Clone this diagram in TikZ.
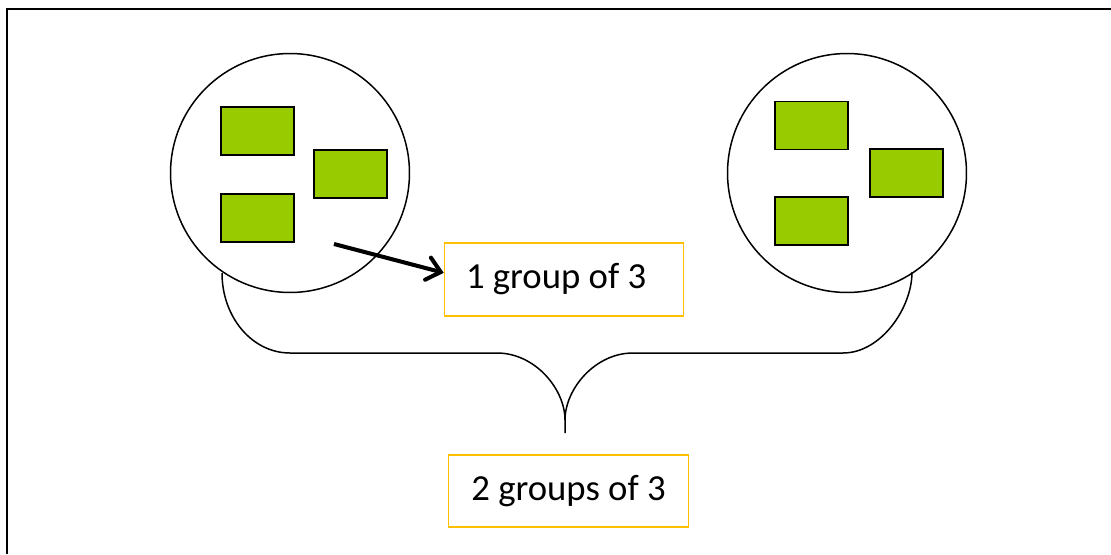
\documentclass[tikz,border=0pt]{standalone}
\usepackage{fontspec}
\setmainfont{Carlito}
\usetikzlibrary{arrows.meta,calc}
\definecolor{sqgreen}{HTML}{99CC00}
\definecolor{boxgold}{HTML}{FFC000}
\tikzset{
  grp/.style={circle,draw=black,line width=0.85pt,minimum size=136pt,inner sep=0pt},
  sq/.style={rectangle,draw=black,fill=sqgreen,line width=1pt,minimum width=41.4pt,minimum height=27.2pt,inner sep=0pt},
  lbl/.style={rectangle,draw=boxgold,line width=0.9pt,font=\fontsize{20.9}{25}\selectfont,inner sep=0pt},
  brace/.style={draw=black,line width=0.85pt},
  pointer/.style={draw=black,line width=2.3pt,-{Straight Barb[length=7.5pt,width=13pt,line cap=round]}}
}
\begin{document}
\begin{tikzpicture}[x=0.02cm,y=-0.02cm]
\useasboundingbox (0,0) rectangle (1111,554);
% frame
\draw[line width=1.1pt] (1111,9) -- (7,9) -- (7,554);
% groups
\node[grp] (g1) at (290,173) {};
\node[grp] (g2) at (847,173) {};
\node[sq] (a1) at (257.5,131) {};
\node[sq] (a2) at (350.5,174) {};
\node[sq] (a3) at (257.5,218) {};
\node[sq] (b1) at (811.5,125.5) {};
\node[sq] (b2) at (906.5,173) {};
\node[sq] (b3) at (811.5,221) {};
% labels
\node[lbl,minimum width=136pt,minimum height=41.4pt] (l1) at (564,279.5) {1 group of 3\hspace*{9pt}};
\node[lbl,minimum width=136.6pt,minimum height=41pt] (l2) at (568.5,491) {2 groups of 3};
% arrow
\coordinate (as) at (334,244);
\draw[pointer] (as) -- ($(l1.north west)!0.41!(l1.south west)$);
% brace
\coordinate (bl) at (222,273);
\coordinate (br) at (912,272);
\coordinate (bt) at (565,433);
\draw[brace] (bl) .. controls (222,317) and (252,353) .. (290,353)
  -- (497,353) .. controls (535,353) and (565,389) .. (565,420) -- (bt)
  (565,420) .. controls (565,389) and (595,353) .. (633,353)
  -- (843,353) .. controls (881,353) and (912,308) .. (br);
\end{tikzpicture}
\end{document}
